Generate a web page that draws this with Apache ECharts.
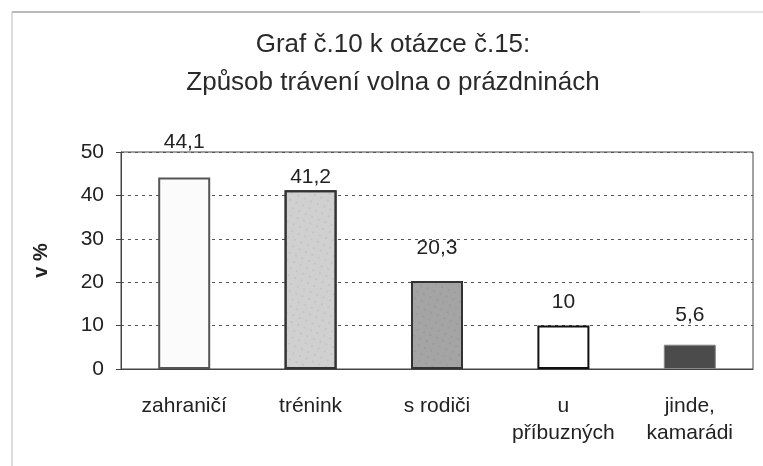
<!DOCTYPE html>
<html lang="cs">
<head>
    <meta charset="UTF-8">
    <title>Graf č.10</title>
    <script src="https://cdn.jsdelivr.net/npm/echarts@6/dist/echarts.min.js"></script>
    <style>
        html, body { margin: 0; padding: 0; background: #fff; }
        #main { width: 763px; height: 466px; }
    </style>
</head>
<body>
    <div id="main"></div>
    <script type="text/javascript">
        // data
        var categories = ['zahraničí', 'trénink', 's rodiči', 'u\npříbuzných', 'jinde,\nkamarádi'];
        var values = [44.1, 41.2, 20.3, 10, 5.6];
        var yTicks = [0, 10, 20, 30, 40, 50];

        // vzhled sloupcu
        var fills = ['#fbfbfb', '#d0d0d0', '#a4a4a4', '#ffffff', '#4b4b4b'];
        var borders = ['#555', '#333', '#333', '#111', '#888'];
        var labelGap = [25, 2, 22, 13, 19];

        var font = 'Liberation Sans, Arial, sans-serif';

        // teckovany vzor jako ve skenu
        var speckle = {
            symbol: 'circle',
            symbolSize: 0.5,
            color: 'rgba(40,40,40,0.35)',
            dashArrayX: [[2, 5], [4, 3]],
            dashArrayY: [2, 5],
            rotation: 0.4
        };

        var seriesData = values.map(function (v, i) {
            var st = { color: fills[i], borderColor: borders[i], borderWidth: i == 4 ? 1 : 2 };
            if (i == 1 || i == 2) st.decal = speckle;
            return {
                value: v,
                itemStyle: st,
                label: { distance: labelGap[i] }
            };
        });

        var myChart = echarts.init(document.getElementById('main'));
        myChart.setOption({
            backgroundColor: '#fff',
            animation: false,
            title: {
                text: 'Graf č.10 k otázce č.15:\nZpůsob trávení volna o prázdninách',
                left: 388,
                textAlign: 'center',
                top: 21,
                textStyle: {
                    fontFamily: font,
                    fontSize: 26,
                    fontWeight: 'normal',
                    color: '#2a2a2a',
                    lineHeight: 38
                }
            },
            graphic: [
                { type: 'line', shape: { x1: 12, y1: 12, x2: 640, y2: 12 }, style: { stroke: '#777', lineWidth: 1 } },
                { type: 'line', shape: { x1: 640, y1: 12, x2: 763, y2: 12 }, style: { stroke: '#ccc', lineWidth: 1 } },
                { type: 'line', shape: { x1: 12, y1: 12, x2: 12, y2: 466 }, style: { stroke: '#bbb', lineWidth: 1 } }
            ],
            grid: {
                left: 121,
                right: 10,
                top: 152,
                bottom: 97,
                show: true,
                borderColor: '#444',
                borderWidth: 1
            },
            xAxis: {
                type: 'category',
                data: categories,
                axisLine: { lineStyle: { color: '#444' } },
                axisTick: { show: false },
                axisLabel: {
                    fontFamily: font,
                    fontSize: 21,
                    color: '#222',
                    lineHeight: 27,
                    margin: 24,
                    interval: 0
                }
            },
            yAxis: {
                type: 'value',
                min: yTicks[0],
                max: yTicks[yTicks.length - 1],
                interval: 10,
                name: 'v %',
                nameLocation: 'middle',
                nameRotate: 90,
                nameGap: 70,
                nameTextStyle: { fontFamily: font, fontSize: 20, fontWeight: 'bold', color: '#222' },
                axisLine: { show: true, lineStyle: { color: '#444' } },
                axisTick: { show: true, length: 5, lineStyle: { color: '#444' } },
                axisLabel: { fontFamily: font, fontSize: 21, color: '#222', margin: 17 },
                splitLine: { lineStyle: { color: '#555', type: [3, 4], width: 1 } }
            },
            series: [{
                type: 'bar',
                data: seriesData,
                barWidth: 52,
                label: {
                    show: true,
                    position: 'top',
                    fontFamily: font,
                    fontSize: 21,
                    color: '#222',
                    formatter: function (p) {
                        return String(p.value).replace('.', ',');
                    }
                }
            }]
        });
    </script>
</body>
</html>
